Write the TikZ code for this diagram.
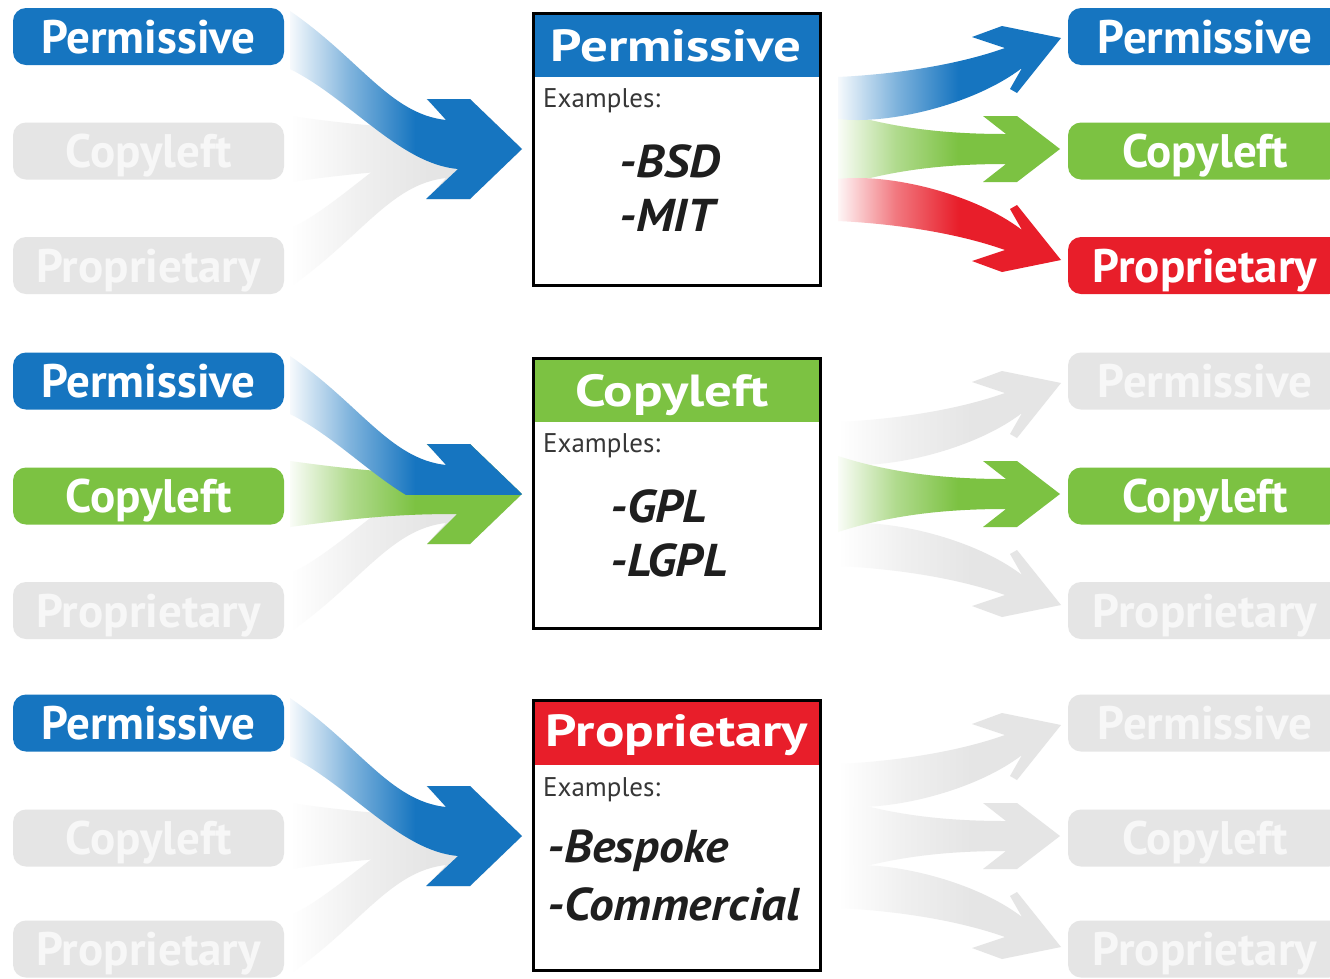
\documentclass[tikz,border=0pt]{standalone}
\usepackage{fontspec}
\setmainfont{PT Sans}
\definecolor{cblue}{RGB}{22,117,192}
\definecolor{cgreen}{RGB}{124,194,66}
\definecolor{cred}{RGB}{232,30,42}
\definecolor{cgray}{RGB}{229,229,229}
\definecolor{cgraytext}{RGB}{247,247,247}
\definecolor{ctext}{RGB}{30,30,30}
\definecolor{cexam}{RGB}{55,55,55}
\pgfdeclarehorizontalshading{fadeblue}{100bp}{color(0bp)=(cblue!4); color(25bp)=(cblue!4); color(38bp)=(cblue!55); color(52bp)=(cblue); color(100bp)=(cblue)}
\pgfdeclarehorizontalshading{fadegreen}{100bp}{color(0bp)=(cgreen!4); color(25bp)=(cgreen!4); color(38bp)=(cgreen!60); color(52bp)=(cgreen); color(100bp)=(cgreen)}
\pgfdeclarehorizontalshading{fadered}{100bp}{color(0bp)=(cred!4); color(25bp)=(cred!4); color(38bp)=(cred!60); color(52bp)=(cred); color(100bp)=(cred)}
\pgfdeclarehorizontalshading{fadegray}{100bp}{color(0bp)=(white); color(25bp)=(white); color(40bp)=(cgray!60); color(55bp)=(cgray); color(100bp)=(cgray)}
\newcommand\pillfont{\fontsize{47}{52}\selectfont\bfseries}
\newcommand\headfont{\fontsize{45}{50}\selectfont\bfseries}
\newcommand\examfont{\fontsize{27}{31}\selectfont}
\newcommand\itemfont{\fontsize{46}{52}\selectfont\bfseries\itshape}
\newcommand\hscale[1]{\scalebox{1.22}[1]{#1}}
\newcommand\iscale[1]{\scalebox{1.07}[1]{#1}}
% #1 tip y, #2 sign (1 from above, (-1) from below), #3 shading
\newcommand\ArLeftCurve[3]{%
 \shade[shading=#3] (290,{#1-#2*138}) .. controls (360,{#1-#2*90}) and (390,{#1-#2*35}) .. (446,{#1-#2*29})
  -- (427,{#1-#2*50}) -- (470,{#1-#2*50}) -- (522,#1) -- (470,{#1+#2*50}) -- (426,{#1+#2*50}) -- (458,{#1+#2*20})
  .. controls (400,{#1+#2*15}) and (350,{#1-#2*50}) .. (290,{#1-#2*80}) -- cycle;}
\newcommand\ArLeftStraight[2]{%
 \shade[shading=#2] (290,{#1-33}) .. controls (370,{#1-22}) and (410,{#1-20}) .. (457,{#1-20})
  -- (427,{#1-50}) -- (470,{#1-50}) -- (522,#1) -- (470,{#1+50}) -- (427,{#1+50}) -- (457,{#1+20})
  .. controls (410,{#1+20}) and (370,{#1+22}) .. (290,{#1+33}) -- cycle;}
\newcommand\ArRightCurve[3]{%
 \shade[shading=#3] (838,{#1-#2*72}) .. controls (900,{#1-#2*75}) and (960,{#1-#2*85}) .. (1005,{#1-#2*101})
  -- (972,{#1-#2*112}) -- (1002,{#1-#2*123}) -- (1061,{#1-#2*111}) -- (1017,{#1-#2*56}) -- (1010,{#1-#2*60}) -- (1022,{#1-#2*81})
  .. controls (975,{#1-#2*45}) and (890,{#1-#2*24}) .. (838,{#1-#2*30}) -- cycle;}
\newcommand\ArRightStraight[2]{%
 \shade[shading=#2] (838,{#1-38}) .. controls (900,{#1-18}) and (960,{#1-15}) .. (1006,{#1-15})
  -- (983,{#1-33}) -- (1017,{#1-33}) -- (1060,#1) -- (1017,{#1+33}) -- (983,{#1+33}) -- (1006,{#1+15})
  .. controls (960,{#1+15}) and (900,{#1+18}) .. (838,{#1+38}) -- cycle;}
\tikzset{
 pill/.style={rounded corners=13pt, minimum width=271pt, minimum height=57pt, inner sep=0pt,
   text=white, font=\pillfont, text height=33pt, text depth=0pt},
 rpill/.style={pill, minimum width=274pt},
 gpill/.style={fill=cgray, text=cgraytext},
 headtext/.style={anchor=base, text=white, font=\headfont, inner sep=0pt},
 examtext/.style={anchor=base west, text=cexam, font=\examfont, inner sep=0pt},
 itemtext/.style={anchor=base west, text=ctext, font=\itemfont, inner sep=0pt},
 boxframe/.style={draw=black, line width=3pt},
}
\begin{document}
\begin{tikzpicture}[x=1pt,y=-1pt]
\useasboundingbox[fill=white] (0,0) rectangle (1330,978);

% ---------------- Row 1 (Permissive) ----------------
\ArLeftStraight{149}{fadegray}
\ArLeftCurve{149}{(-1)}{fadegray}
\ArLeftCurve{149}{1}{fadeblue}
\ArRightStraight{149}{fadegreen}
\ArRightCurve{149}{1}{fadeblue}
\ArRightCurve{149}{(-1)}{fadered}

\node[pill, fill=cblue] (l1a) at (148.5,36.5) {Permissive};
\node[pill, gpill] (l1b) at (148.5,151) {Copyleft};
\node[pill, gpill] (l1c) at (148.5,265.5) {Proprietary};
\node[rpill, fill=cblue] (r1a) at (1205,36.5) {Permissive};
\node[rpill, fill=cgreen] (r1b) at (1205,151) {Copyleft};
\node[rpill, fill=cred] (r1c) at (1205,265.5) {Proprietary};

\fill[cblue] (533.5,13.5) rectangle (820.5,77);
\draw[boxframe] (533.5,13.5) rectangle (820.5,285.5);
\node[headtext] (h1) at (676,61) {\hscale{Permissive}};
\node[examtext] (e1) at (543,107) {Examples:};
\node[itemtext] (i1a) at (619,177) {\iscale{-BSD}};
\node[itemtext] (i1b) at (619,231) {\iscale{-MIT}};

% ---------------- Row 2 (Copyleft) ----------------
\ArLeftCurve{494}{(-1)}{fadegray}
\ArLeftStraight{494}{fadegreen}
\begin{scope}
 \clip (0,300) rectangle (1330,494);
 \ArLeftCurve{494}{1}{fadeblue}
\end{scope}
\ArRightCurve{494}{1}{fadegray}
\ArRightCurve{494}{(-1)}{fadegray}
\ArRightStraight{494}{fadegreen}

\node[pill, fill=cblue] (l2a) at (148.5,381) {Permissive};
\node[pill, fill=cgreen] (l2b) at (148.5,496) {Copyleft};
\node[pill, gpill] (l2c) at (148.5,610.5) {Proprietary};
\node[rpill, gpill] (r2a) at (1205,381) {Permissive};
\node[rpill, fill=cgreen] (r2b) at (1205,496) {Copyleft};
\node[rpill, gpill] (r2c) at (1205,610.5) {Proprietary};

\fill[cgreen] (533.5,358.5) rectangle (820.5,422);
\draw[boxframe] (533.5,358.5) rectangle (820.5,628.5);
\node[headtext] (h2) at (672,406) {\hscale{Copyleft}};
\node[examtext] (e2) at (543,452) {Examples:};
\node[itemtext] (i2a) at (610,522) {\iscale{-GPL}};
\node[itemtext] (i2b) at (610,576) {\iscale{-LGPL}};

% ---------------- Row 3 (Proprietary) ----------------
\ArLeftStraight{836}{fadegray}
\ArLeftCurve{836}{(-1)}{fadegray}
\ArLeftCurve{836}{1}{fadeblue}
\ArRightStraight{836}{fadegray}
\ArRightCurve{836}{1}{fadegray}
\ArRightCurve{836}{(-1)}{fadegray}

\node[pill, fill=cblue] (l3a) at (148.5,723) {Permissive};
\node[pill, gpill] (l3b) at (148.5,838) {Copyleft};
\node[pill, gpill] (l3c) at (148.5,949) {Proprietary};
\node[rpill, gpill] (r3a) at (1205,723) {Permissive};
\node[rpill, gpill] (r3b) at (1205,838) {Copyleft};
\node[rpill, gpill] (r3c) at (1205,949) {Proprietary};

\fill[cred] (533.5,700.5) rectangle (820.5,765);
\draw[boxframe] (533.5,700.5) rectangle (820.5,970.5);
\node[headtext] (h3) at (677,746) {\hscale{Proprietary}};
\node[examtext] (e3) at (543,796) {Examples:};
\node[itemtext] (i3a) at (547,862) {\iscale{-Bespoke}};
\node[itemtext] (i3b) at (547,920) {\iscale{-Commercial}};
\end{tikzpicture}
\end{document}
